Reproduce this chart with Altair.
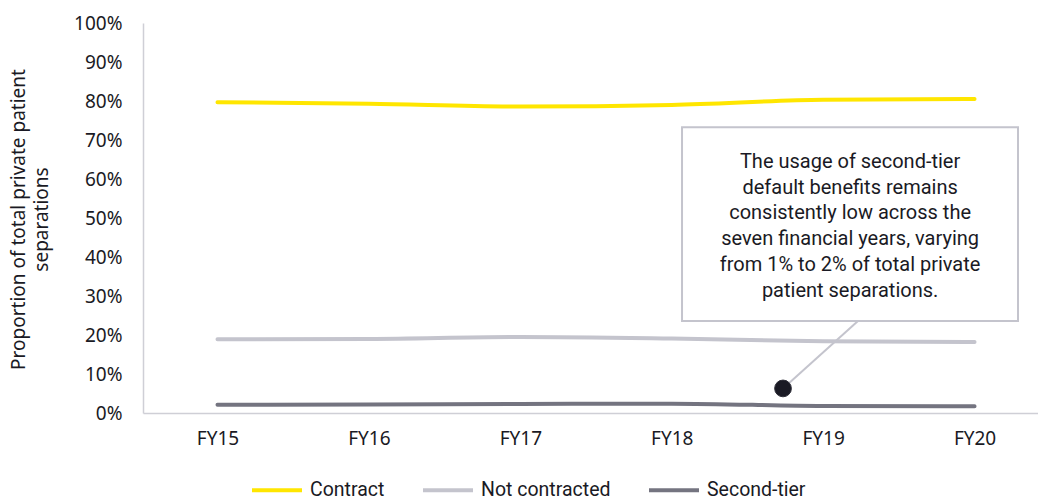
import altair as alt
import pandas as pd

# Financial years and share of private patient separations (%)
categories = ["FY15", "FY16", "FY17", "FY18", "FY19", "FY20"]
contract = [79.7, 79.3, 78.6, 79.0, 80.3, 80.5]
not_contracted = [18.9, 19.0, 19.5, 19.1, 18.4, 18.2]
second_tier = [2.1, 2.2, 2.3, 2.4, 1.8, 1.7]

series_names = ["Contract", "Not contracted", "Second-tier"]
series_colors = ["#FFE600", "#C4C4CD", "#747480"]

# Callout (in data units: x = year index, y = percent)
note_text = [
    "The usage of second-tier",
    "default benefits remains",
    "consistently low across the",
    "seven financial years, varying",
    "from 1% to 2% of total private",
    "patient separations.",
]
note_box_x = [3.068, 5.287]
note_box_y = [73.3, 23.6]
note_text_pos = [4.178, 64.4]
note_dot = [3.735, 6.3]
note_leader_end = [4.23, 23.6]

idx = list(range(len(categories)))
rows = []
for name, vals in zip(series_names, [contract, not_contracted, second_tier]):
    for i, v in zip(idx, vals):
        rows.append({"idx": i, "year": categories[i], "series": name, "value": v})
df = pd.DataFrame(rows)

label_expr = "[" + ",".join(f"'{c}'" for c in categories) + "][datum.value]"

x_scale = alt.Scale(domain=[-0.492, 5.419], nice=False, zero=False)
y_scale = alt.Scale(domain=[0, 100], nice=False)

TEXT = "#1A1A24"
AXIS_LINE = "#CFCFD6"
AXIS_FONT = "Noto Sans"

x_axis = alt.Axis(
    values=idx, labelExpr=label_expr, grid=False, ticks=False,
    title=None, domainColor=AXIS_LINE, domainWidth=1.5,
    labelFont=AXIS_FONT, labelFontSize=19, labelColor=TEXT,
    labelPadding=16, labelOverlap=False,
)
y_axis = alt.Axis(
    values=list(range(0, 101, 10)), labelExpr="datum.value + '%'",
    grid=False, ticks=False, domainColor=AXIS_LINE, domainWidth=1.5,
    labelFont=AXIS_FONT, labelFontSize=19, labelColor=TEXT,
    labelPadding=21, labelOverlap=False, labelBound=False, labelFlush=False,
    title=["Proportion of total private patient", "separations"],
    titleFont=AXIS_FONT, titleFontSize=19, titleFontWeight="normal",
    titleColor=TEXT, titleLineHeight=23, titleBaseline="top",
    titleAlign="center", titleAngle=270, titleX=-134, titleY=196,
)


def xq(field):
    return alt.X(field, scale=x_scale, axis=x_axis)


def yq(field):
    return alt.Y(field, scale=y_scale, axis=y_axis)


lines = alt.Chart(df).mark_line(strokeWidth=4, interpolate="monotone", strokeCap="round").encode(
    x=xq("idx:Q"),
    y=yq("value:Q"),
    color=alt.Color(
        "series:N",
        scale=alt.Scale(domain=series_names, range=series_colors),
        sort=series_names,
        legend=alt.Legend(
            title=None, orient="none", direction="horizontal",
            legendX=107, legendY=440,
            symbolType="stroke", symbolSize=2500, symbolStrokeWidth=4,
            labelFont="Roboto", labelFontSize=19.5, labelColor=TEXT,
            labelOffset=6, columnPadding=30, symbolOffset=0,
        ),
    ),
    detail="series:N",
)

box_df = pd.DataFrame([{"x1": note_box_x[0], "x2": note_box_x[1], "y1": note_box_y[0], "y2": note_box_y[1]}])
box = alt.Chart(box_df).mark_rect(fill="white", stroke="#C4C4CD", strokeWidth=2).encode(
    x=xq("x1:Q"), x2="x2:Q", y=yq("y1:Q"), y2="y2:Q",
)

text_df = pd.DataFrame([{"x": note_text_pos[0], "y": note_text_pos[1], "t": note_text}])
note = alt.Chart(text_df).mark_text(
    font="Roboto", fontSize=20, color=TEXT, align="center", baseline="middle", lineHeight=25.8,
).encode(x=xq("x:Q"), y=yq("y:Q"), text="t")

leader_df = pd.DataFrame([{"x1": note_dot[0], "y1": note_dot[1], "x2": note_leader_end[0], "y2": note_leader_end[1]}])
leader = alt.Chart(leader_df).mark_rule(stroke="#C4C4CD", strokeWidth=2).encode(
    x=xq("x1:Q"), x2="x2:Q", y=yq("y1:Q"), y2="y2:Q",
)

dot_df = pd.DataFrame([{"x": note_dot[0], "y": note_dot[1]}])
dot = alt.Chart(dot_df).mark_point(
    filled=True, size=280, shape="circle", fill="#1A1A24", stroke="#2E2E38", strokeWidth=1, opacity=1
).encode(x=xq("x:Q"), y=yq("y:Q"))

chart = alt.layer(lines, leader, box, note, dot).properties(
    width=895, height=390,
    autosize=alt.AutoSizeParams(type="none"),
    padding={"left": 143, "top": 23, "right": 0, "bottom": 87},
    background="white",
).configure_view(stroke=None)

chart.save("out.html", embed_options={"renderer": "svg", "actions": False})
